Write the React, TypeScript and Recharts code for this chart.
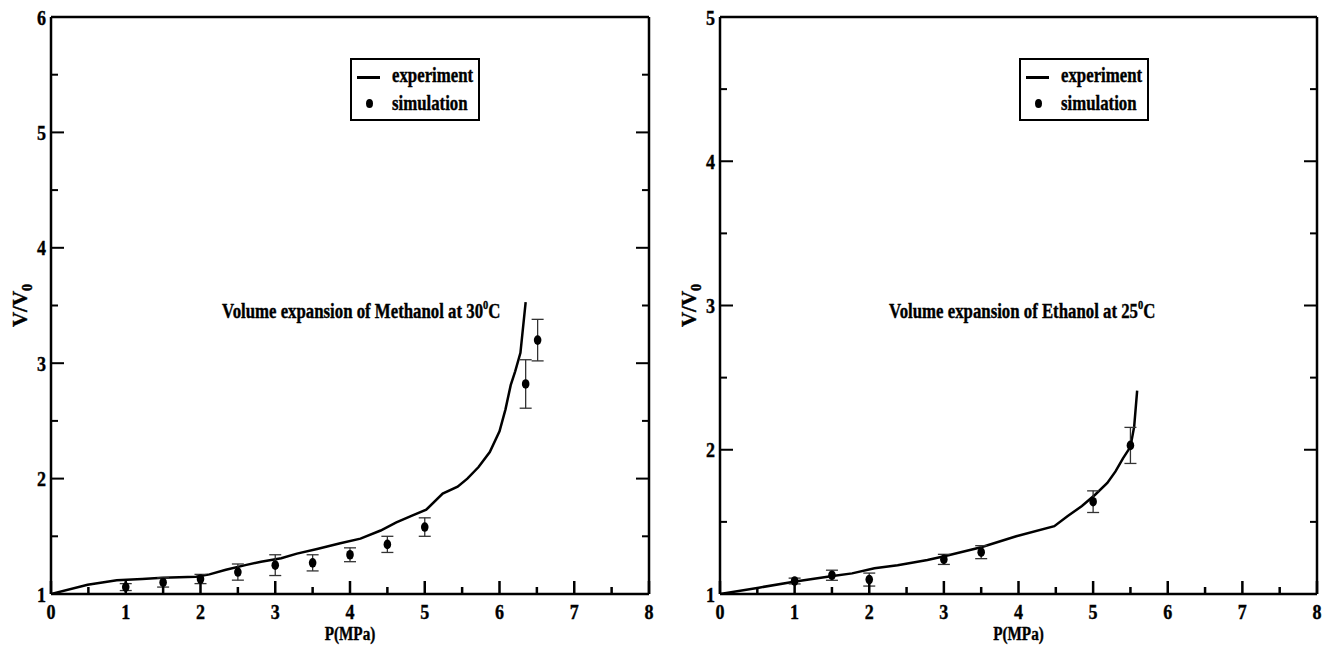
import React from "react";
import {
  ComposedChart,
  Line,
  Scatter,
  ErrorBar,
  XAxis,
  YAxis,
  Legend,
  ReferenceDot,
} from "recharts";

const FONT = "Liberation Serif";
const SX = 0.82; // the reference type is horizontally squeezed

// Methanol at 30 C
const METH_EXP_P = [0, 0.49, 0.88, 1.22, 1.49, 1.94, 2.12, 2.34, 2.6, 2.81, 3.08, 3.29, 3.56, 3.87, 4.14, 4.41, 4.62, 4.83, 5.02, 5.24, 5.44, 5.57, 5.72, 5.87, 6.0, 6.08, 6.15, 6.21, 6.28, 6.35];
const METH_EXP_V = [1, 1.08, 1.12, 1.13, 1.14, 1.15, 1.17, 1.21, 1.25, 1.28, 1.31, 1.35, 1.39, 1.44, 1.48, 1.55, 1.62, 1.68, 1.73, 1.87, 1.93, 2.0, 2.1, 2.23, 2.41, 2.6, 2.81, 2.93, 3.09, 3.53];
const METH_SIM_P = [1, 1.5, 2, 2.5, 3, 3.5, 4, 4.5, 5, 6.35, 6.51];
const METH_SIM_V = [1.06, 1.1, 1.13, 1.19, 1.25, 1.27, 1.34, 1.43, 1.58, 2.82, 3.2];
const METH_SIM_ERR = [0.03, 0.04, 0.04, 0.07, 0.09, 0.07, 0.06, 0.07, 0.08, 0.21, 0.18];

// Ethanol at 25 C
const ETH_EXP_P = [0, 0.52, 1.01, 1.51, 1.77, 2.07, 2.38, 2.78, 3.02, 3.5, 3.97, 4.48, 4.66, 4.85, 5.03, 5.19, 5.3, 5.4, 5.5, 5.55, 5.59];
const ETH_EXP_V = [1, 1.044, 1.086, 1.125, 1.143, 1.178, 1.2, 1.236, 1.264, 1.324, 1.4, 1.47, 1.54, 1.61, 1.69, 1.77, 1.85, 1.94, 2.02, 2.16, 2.41];
const ETH_SIM_P = [1, 1.5, 2, 3, 3.5, 5, 5.5];
const ETH_SIM_V = [1.09, 1.13, 1.1, 1.24, 1.29, 1.64, 2.03];
const ETH_SIM_ERR = [0.02, 0.035, 0.045, 0.035, 0.045, 0.075, 0.125];

const X_TICKS = [0, 0.5, 1, 1.5, 2, 2.5, 3, 3.5, 4, 4.5, 5, 5.5, 6, 6.5, 7, 7.5, 8];
const Y_TICKS_METH = [1, 1.5, 2, 2.5, 3, 3.5, 4, 4.5, 5, 5.5, 6];
const Y_TICKS_ETH = [1, 1.5, 2, 2.5, 3, 3.5, 4, 4.5, 5];

const toLine = (p: number[], v: number[]) => p.map((x, i) => ({ p: x, v: v[i] }));
const toPts = (p: number[], v: number[], e: number[]) =>
  p.map((x, i) => ({ p: x, v: v[i], e: e[i] }));

const isMajor = (v: number) => Math.abs(v - Math.round(v)) < 1e-6;
const tickLen = (v: number) => (isMajor(v) ? 13 : 7);

const txtStyle = {
  fontFamily: FONT,
  fontWeight: "bold" as const,
  fill: "#000",
  stroke: "#000",
  strokeWidth: 0.4,
};

// tickSize and tickMargin are 0, so x / y sit right on the axis line
function TickMark(props: any) {
  const { payload, side } = props;
  const x = Number(props.x);
  const y = Number(props.y);
  const v = payload.value;
  const len = tickLen(v);
  let mark: any = null;
  let label: any = null;
  if (side === "left") mark = <rect x={x} y={y - 1} width={len} height={2} fill="#000" />;
  if (side === "right") mark = <rect x={x - len} y={y - 1} width={len} height={2} fill="#000" />;
  if (side === "bottom") mark = <rect x={x - 1.25} y={y - len} width={2.5} height={len} fill="#000" />;
  if (side === "top") mark = <rect x={x - 1.25} y={y} width={2.5} height={len} fill="#000" />;
  if (isMajor(v) && side === "bottom")
    label = (
      <text transform={`translate(${x},${y + 25}) scale(${SX},1)`} textAnchor="middle" fontSize={22} {...txtStyle}>
        {v}
      </text>
    );
  if (isMajor(v) && side === "left")
    label = (
      <text transform={`translate(${x - 5},${y + 7.5}) scale(${SX},1)`} textAnchor="end" fontSize={22} {...txtStyle}>
        {v}
      </text>
    );
  return (
    <g>
      {mark}
      {label}
    </g>
  );
}

function YLabel({ viewBox }: any) {
  const cx = viewBox.x + viewBox.width - 31;
  const cy = viewBox.y + viewBox.height / 2;
  return (
    <text
      transform={`translate(${cx},${cy}) rotate(-90)`}
      y={7}
      textAnchor="middle"
      fontSize={21}
      {...txtStyle}
    >
      V/V<tspan dy={5} fontSize={14}>0</tspan>
    </text>
  );
}

function XLabel({ viewBox }: any) {
  const cx = viewBox.x + viewBox.width / 2;
  return (
    <text
      transform={`translate(${cx},${viewBox.y + 46}) scale(0.8,1)`}
      textAnchor="middle"
      fontSize={19}
      {...txtStyle}
    >
      P(MPa)
    </text>
  );
}

function Annotation({ viewBox, text }: any) {
  return (
    <text
      transform={`translate(${viewBox.x},${viewBox.y}) scale(0.8,1)`}
      y={7}
      textAnchor="middle"
      fontSize={21}
      {...txtStyle}
    >
      {text}
      <tspan dy={-9} fontSize={13}>0</tspan>
      <tspan dy={9}>C</tspan>
    </text>
  );
}

function LegendBox({ payload }: any) {
  const names = (payload || []).map((p: any) => p.value);
  const txt: React.CSSProperties = {
    position: "absolute",
    left: 40,
    fontSize: 21,
    lineHeight: "21px",
    transform: "scaleX(0.8)",
    transformOrigin: "left center",
    whiteSpace: "nowrap",
    WebkitTextStroke: "0.4px #000",
  };
  return (
    <div
      style={{
        width: 130,
        height: 63,
        border: "2px solid #000",
        boxSizing: "border-box",
        position: "relative",
        background: "#fff",
        fontFamily: FONT,
        fontWeight: "bold",
        color: "#000",
      }}
    >
      <div style={{ position: "absolute", left: 5, top: 16, width: 23, height: 2.5, background: "#000" }} />
      <div style={{ ...txt, top: 5 }}>{names.includes("experiment") ? "experiment" : names[0]}</div>
      <div
        style={{
          position: "absolute",
          left: 13.5,
          top: 38.5,
          width: 7,
          height: 9,
          borderRadius: "50%",
          background: "#000",
        }}
      />
      <div style={{ ...txt, top: 33 }}>{names.includes("simulation") ? "simulation" : names[1]}</div>
    </div>
  );
}

interface PanelProps {
  width: number;
  leftW: number;
  rightW: number;
  yMax: number;
  yTicks: number[];
  exp: { p: number; v: number }[];
  sim: { p: number; v: number; e: number }[];
  note: string;
  noteAt: [number, number];
  legendLeft: number;
}

function Panel({ width, leftW, rightW, yMax, yTicks, exp, sim, note, noteAt, legendLeft }: PanelProps) {
  const axisLine = { stroke: "#000", strokeWidth: 2.5 };
  const common = {
    type: "number" as const,
    interval: 0 as const,
    allowDataOverflow: true,
    tickMargin: 0,
    axisLine,
  };
  return (
    <ComposedChart width={width} height={646} margin={{ top: 0, right: 0, bottom: 0, left: 0 }}>
      {/* major ticks pointing into the plot: negative tick size */}
      <XAxis
        {...common}
        dataKey="p"
        domain={[0, 8]}
        ticks={X_TICKS}
        height={52}
        tickSize={0}
        tickLine={false}
        tick={(p: any) => <TickMark {...p} side="bottom" />}
        label={(p: any) => <XLabel {...p} />}
      />
      <XAxis
        {...common}
        xAxisId="top"
        orientation="top"
        domain={[0, 8]}
        ticks={X_TICKS}
        height={17}
        tickSize={0}
        tickLine={false}
        tick={(p: any) => <TickMark {...p} side="top" />}
      />
      <YAxis
        {...common}
        domain={[1, yMax]}
        ticks={yTicks}
        width={leftW}
        tickSize={0}
        tickLine={false}
        tick={(p: any) => <TickMark {...p} side="left" />}
        label={(p: any) => <YLabel {...p} />}
      />
      <YAxis
        {...common}
        yAxisId="right"
        orientation="right"
        domain={[1, yMax]}
        ticks={yTicks}
        width={rightW}
        tickSize={0}
        tickLine={false}
        tick={(p: any) => <TickMark {...p} side="right" />}
      />
      <Line
        name="experiment"
        data={exp}
        dataKey="v"
        type="linear"
        stroke="#000"
        strokeWidth={2.5}
        dot={false}
        isAnimationActive={false}
      />
      <Scatter
        name="simulation"
        data={sim}
        dataKey="v"
        fill="#000"
        isAnimationActive={false}
        shape={(p: any) => <ellipse cx={p.cx} cy={p.cy} rx={3.8} ry={4.8} fill="#000" />}
      >
        <ErrorBar dataKey="e" direction="y" width={6} stroke="#333" strokeWidth={1.3} />
      </Scatter>
      <ReferenceDot
        x={noteAt[0]}
        y={noteAt[1]}
        r={0}
        fill="none"
        stroke="none"
        ifOverflow="visible"
        label={(p: any) => <Annotation {...p} text={note} />}
      />
      <Legend
        layout="horizontal"
        verticalAlign="middle"
        align="center"
        content={(p: any) => <LegendBox {...p} />}
        wrapperStyle={{ position: "absolute", top: 58, left: legendLeft, width: 130, height: 63 }}
      />
    </ComposedChart>
  );
}

export default function App() {
  return (
    <div style={{ position: "absolute", left: 0, top: 0, width: 1322, height: 646, background: "#fff" }}>
      <div style={{ position: "absolute", left: 0, top: 0 }}>
        <Panel
          width={660}
          leftW={51}
          rightW={11}
          yMax={6}
          yTicks={Y_TICKS_METH}
          exp={toLine(METH_EXP_P, METH_EXP_V)}
          sim={toPts(METH_SIM_P, METH_SIM_V, METH_SIM_ERR)}
          note="Volume expansion of Methanol at 30"
          noteAt={[4.15, 3.45]}
          legendLeft={350}
        />
      </div>
      <div style={{ position: "absolute", left: 660, top: 0 }}>
        <Panel
          width={662}
          leftW={60}
          rightW={5}
          yMax={5}
          yTicks={Y_TICKS_ETH}
          exp={toLine(ETH_EXP_P, ETH_EXP_V)}
          sim={toPts(ETH_SIM_P, ETH_SIM_V, ETH_SIM_ERR)}
          note="Volume expansion of Ethanol at 25"
          noteAt={[4.05, 2.96]}
          legendLeft={359}
        />
      </div>
    </div>
  );
}
